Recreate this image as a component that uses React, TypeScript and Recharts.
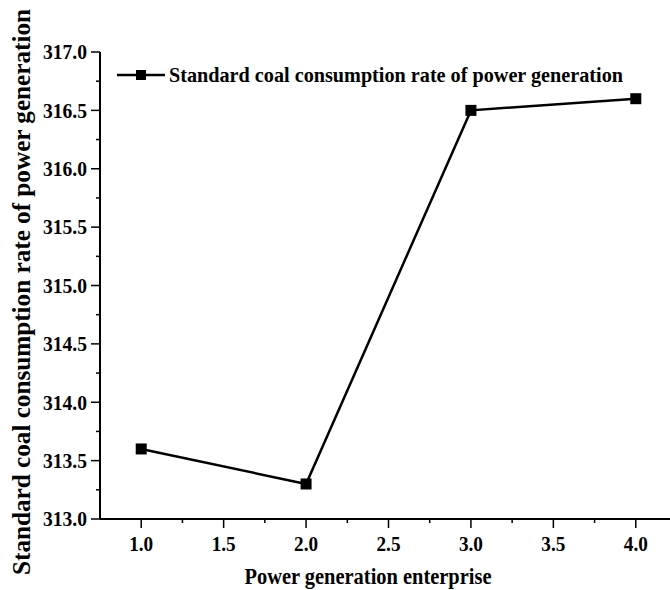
import { LineChart, Line, XAxis, YAxis, Label } from 'recharts';

const enterprises = [1, 2, 3, 4];
const coalRate = [313.6, 313.3, 316.5, 316.6];
const xTicks = [1.0, 1.25, 1.5, 1.75, 2.0, 2.25, 2.5, 2.75, 3.0, 3.25, 3.5, 3.75, 4.0];
const yTicks = [313.0, 313.25, 313.5, 313.75, 314.0, 314.25, 314.5, 314.75, 315.0, 315.25, 315.5, 315.75, 316.0, 316.25, 316.5, 316.75, 317.0];

const seriesName = 'Standard coal consumption rate of power generation';
const xTitle = 'Power generation enterprise';
const font = '"Liberation Serif", "Times New Roman", serif';

const data = enterprises.map((x, i) => ({ x, rate: coalRate[i] }));

const isMajor = (v: number) => Math.abs(v * 2 - Math.round(v * 2)) < 1e-6;

const XTick = (props: any) => {
  const { x, y, payload } = props;
  const v = payload.value as number;
  const major = isMajor(v);
  return (
    <g>
      <line x1={x} x2={x} y1={y} y2={y + (major ? 9 : 4)} stroke="#000" strokeWidth={1.5} />
      {major && (
        <text x={x} y={y + 32} textAnchor="middle" fontFamily={font} fontWeight="bold" fontSize={21} fill="#000" textLength={24} lengthAdjust="spacingAndGlyphs">
          {v.toFixed(1)}
        </text>
      )}
    </g>
  );
};

const YTick = (props: any) => {
  const { x, y, payload } = props;
  const v = payload.value as number;
  const major = isMajor(v);
  return (
    <g>
      <line x1={x - (major ? 9 : 4)} x2={x} y1={y} y2={y} stroke="#000" strokeWidth={1.5} />
      {major && (
        <text x={x - 13} y={y} dy="0.35em" textAnchor="end" fontFamily={font} fontWeight="bold" fontSize={21} fill="#000" textLength={44} lengthAdjust="spacingAndGlyphs">
          {v.toFixed(1)}
        </text>
      )}
    </g>
  );
};

const Square = (props: any) => {
  const { cx, cy } = props;
  return <rect x={cx - 5.5} y={cy - 5.5} width={11} height={11} fill="#000" />;
};

const LegendBox = () => (
  <svg width={553} height={32} style={{ display: 'block' }}>
    <line x1={0} x2={48} y1={15} y2={15} stroke="#000" strokeWidth={2.5} />
    <rect x={19} y={10} width={10} height={10} fill="#000" />
    <text x={52} y={22} fontFamily={font} fontWeight="bold" fontSize={21} fill="#000" textLength={454} lengthAdjust="spacingAndGlyphs">
      {seriesName}
    </text>
  </svg>
);

export default function App() {
  return (
    <div style={{ position: 'absolute', left: 0, top: 0, width: 670, height: 590, overflow: 'hidden', background: '#fff' }}>
      <LineChart width={700} height={590} data={data} margin={{ top: 52, right: 23, left: 0, bottom: 0 }}>
        <XAxis
          dataKey="x"
          type="number"
          domain={[0.75, 4.25]}
          ticks={xTicks}
          interval={0}
          height={71}
          tickSize={0}
          tickMargin={0}
          tick={<XTick />}
          axisLine={{ stroke: '#000', strokeWidth: 2 }}
        >
          <Label
            content={() => (
              <text x={368} y={584} textAnchor="middle" fontFamily={font} fontWeight="bold" fontSize={24} fill="#000" textLength={247} lengthAdjust="spacingAndGlyphs">
                {xTitle}
              </text>
            )}
          />
        </XAxis>
        <XAxis xAxisId="top" orientation="top" type="number" domain={[0.75, 4.25]} height={0} tick={false} tickLine={false} axisLine={{ stroke: '#555', strokeWidth: 2 }} />
        <YAxis
          type="number"
          domain={[313, 317]}
          ticks={yTicks}
          interval={0}
          width={100}
          tickSize={0}
          tickMargin={0}
          tick={<YTick />}
          axisLine={{ stroke: '#000', strokeWidth: 2 }}
        >
          <Label
            content={() => (
              <text x={30} y={292} transform="rotate(-90 30 292)" textAnchor="middle" fontFamily={font} fontWeight="bold" fontSize={25} fill="#000" textLength={566} lengthAdjust="spacingAndGlyphs">
                {seriesName}
              </text>
            )}
          />
        </YAxis>
        <Line
          dataKey="rate"
          name={seriesName}
          stroke="#000"
          strokeWidth={2.5}
          dot={<Square />}
          activeDot={false}
          isAnimationActive={false}
        />
      </LineChart>
      <div style={{ position: 'absolute', left: 117, top: 60 }}>
        <LegendBox />
      </div>
    </div>
  );
}
